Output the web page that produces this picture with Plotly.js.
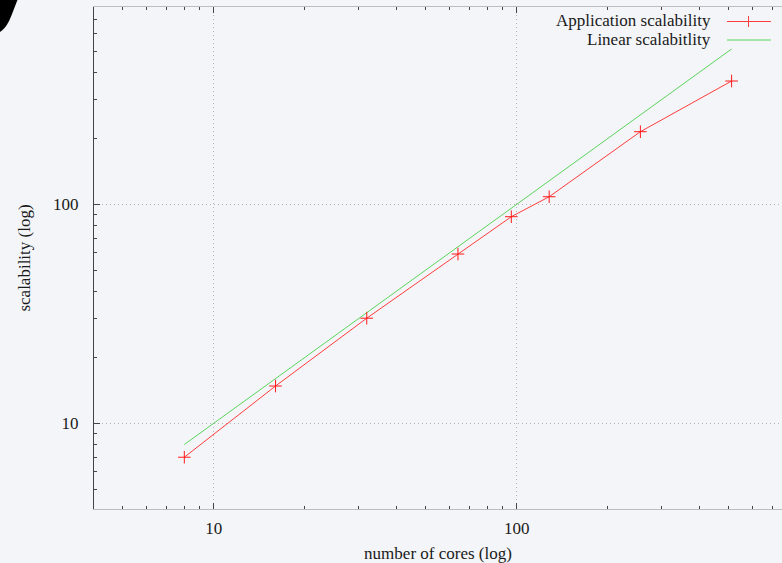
<!DOCTYPE html>
<html>
<head>
<meta charset="utf-8">
<script src="https://cdn.plot.ly/plotly-3.0.1.min.js"></script>
<style>
html,body{margin:0;padding:0;background:#f3f5f8;overflow:hidden;}
#chart{width:782px;height:563px;}
</style>
</head>
<body>
<div id="chart"></div>
<script>
// Data
const cores = [8, 16, 32, 64, 96, 128, 256, 512];
const appScalability = [7.0, 14.8, 30.2, 59.3, 87.8, 108.3, 214.6, 365.6];
const linearCores = [8, 512];
const linearScalability = [8, 512];
const seriesNames = ["Application scalability", "Linear scalabitlity"];
const majorTicks = [10, 100];
const majorTickText = ["10", "100"];
const minorTicks = [4, 5, 6, 7, 8, 9, 20, 30, 40, 50, 60, 70, 80, 90, 200, 300, 400, 500, 600, 700];
const axisTitles = {x: "number of cores (log)", y: "scalability (log)"};

const RED = "#ff3c3c";
const GREEN = "#5cd45c";
const serif = "Liberation Serif, Times New Roman, serif";

const traces = [
  {
    x: linearCores, y: linearScalability, name: seriesNames[1],
    type: "scatter", mode: "lines",
    line: {color: GREEN, width: 1},
    showlegend: false, hoverinfo: "skip"
  },
  {
    x: cores, y: appScalability, name: seriesNames[0],
    type: "scatter", mode: "lines+markers",
    line: {color: RED, width: 1},
    marker: {symbol: "cross-thin-open", size: 9, color: "#ff1a1a", line: {color: "#ff1a1a", width: 1}},
    showlegend: false, hoverinfo: "skip"
  }
];

const ML = 94, MT = 7, MB = 54, W = 782, H = 563;
const PW = W - ML, PH = H - MT - MB;
const px = v => (v - ML) / PW;        // pixel -> paper x
const py = v => 1 - (v - MT) / PH;    // pixel -> paper y

const axisCommon = {
  type: "log",
  tickmode: "array",
  ticks: "inside",
  ticklen: 6,
  tickwidth: 1,
  tickcolor: "#444",
  showgrid: true,
  gridcolor: "#b4b4b4",
  griddash: "1px,3px",
  gridwidth: 1,
  zeroline: false,
  showline: true,
  tickfont: {family: serif, size: 17, color: "#1a1a1a"},
  minor: {tickmode: "array", tickvals: minorTicks, ticks: "inside", ticklen: 3, tickwidth: 1, tickcolor: "#444", showgrid: false},
  automargin: false
};

const layout = {
  width: W, height: H,
  margin: {l: ML, r: 0, t: MT, b: MB, pad: 0},
  paper_bgcolor: "#f3f5f8",
  plot_bgcolor: "#f3f5f8",
  showlegend: false,
  xaxis: Object.assign({}, axisCommon, {
    range: [0.605, 2.8756],
    tickvals: majorTicks, ticktext: majorTickText,
    linecolor: "#bdbdbd", linewidth: 1,
    mirror: "ticks",
    ticklabelstandoff: 4,
    title: {text: axisTitles.x, font: {family: serif, size: 17, color: "#1a1a1a"}, standoff: 12}
  }),
  yaxis: Object.assign({}, axisCommon, {
    range: [0.6087, 2.901],
    tickvals: majorTicks, ticktext: majorTickText,
    linecolor: "#444", linewidth: 1,
    mirror: false,
    ticklabelstandoff: 11,
    title: {text: axisTitles.y, font: {family: serif, size: 17, color: "#1a1a1a"}, standoff: 18}
  }),
  annotations: [
    {xref: "paper", yref: "paper", x: px(713), y: py(20.5), xanchor: "right", yanchor: "middle",
     text: seriesNames[0], showarrow: false, font: {family: serif, size: 17, color: "#1a1a1a"}},
    {xref: "paper", yref: "paper", x: px(713), y: py(39.5), xanchor: "right", yanchor: "middle",
     text: seriesNames[1], showarrow: false, font: {family: serif, size: 17, color: "#1a1a1a"}},
    {xref: "paper", yref: "paper", x: px(2), y: py(-33), xanchor: "center", yanchor: "middle",
     text: "<b>y</b>", showarrow: false, font: {family: "DejaVu Sans", size: 120, color: "#000"}}
  ],
  shapes: [
    {type: "line", xref: "paper", yref: "paper", x0: px(727), x1: px(771), y0: py(21.5), y1: py(21.5), line: {color: RED, width: 1}},
    {type: "line", xref: "paper", yref: "paper", x0: px(748.5), x1: px(748.5), y0: py(16), y1: py(27), line: {color: RED, width: 1}},
    {type: "line", xref: "paper", yref: "paper", x0: px(727), x1: px(771), y0: py(40), y1: py(40), line: {color: GREEN, width: 1}}
  ]
};

Plotly.newPlot("chart", traces, layout, {displayModeBar: false, staticPlot: true});
</script>
</body>
</html>
